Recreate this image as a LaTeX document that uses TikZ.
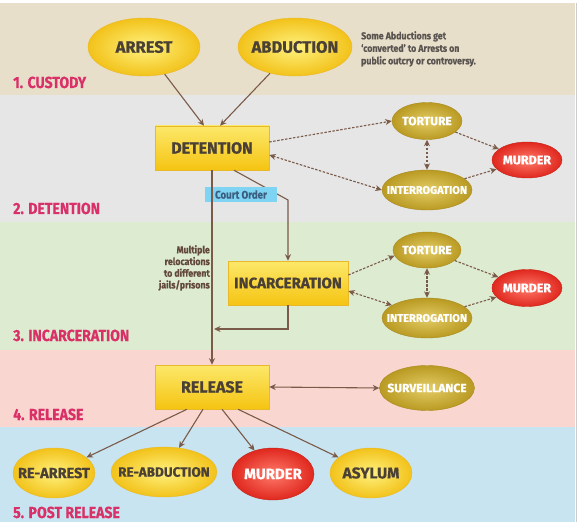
\documentclass[tikz,border=0pt]{standalone}
\usepackage{fontspec}
\setmainfont{Fira Sans}
\newfontfamily\hv{Fira Sans}[FakeBold=0.8]
\newfontfamily\lblf{Fira Sans}[FakeStretch=0.88,FakeBold=0.5]
\usetikzlibrary{shapes.geometric,arrows.meta}
\definecolor{bandA}{HTML}{E8DFCB}
\definecolor{bandB}{HTML}{E6E6E6}
\definecolor{bandC}{HTML}{DDEBD0}
\definecolor{bandD}{HTML}{FAD6D0}
\definecolor{bandE}{HTML}{C8E4F0}
\definecolor{lblc}{HTML}{D93068}
\definecolor{brn}{HTML}{7A5A48}
\definecolor{txt}{HTML}{4A4036}
\definecolor{yTop}{HTML}{FCE86A}
\definecolor{yBot}{HTML}{F5C412}
\definecolor{yEdge}{HTML}{E9B92A}
\definecolor{yIn}{HTML}{FFF27F}
\definecolor{yOut}{HTML}{F2C21A}
\definecolor{oIn}{HTML}{E4CD67}
\definecolor{oOut}{HTML}{B99A22}
\definecolor{oEdge}{HTML}{A88A1E}
\definecolor{rIn}{HTML}{FF7A6A}
\definecolor{rOut}{HTML}{E0281E}
\definecolor{rEdge}{HTML}{C52018}
\definecolor{coFill}{HTML}{7FD3F3}
\definecolor{coText}{HTML}{3B5F80}
\definecolor{noteText}{HTML}{5A5550}
\tikzset{
  ybox/.style={rectangle, minimum width=114, minimum height=44, inner sep=0pt,
    top color=yTop, bottom color=yBot, draw=yEdge, line width=0.5pt,
    text=txt, font=\hv\bfseries\fontsize{16}{16}\selectfont},
  ellbase/.style={ellipse, inner xsep=-20pt, inner ysep=0pt, shading=radial, line width=0.4pt},
  yell/.style={ellbase, inner color=yIn, outer color=yOut, draw=yEdge, text=txt},
  oell/.style={ellbase, inner color=oIn, outer color=oOut, draw=oEdge, text=white},
  rell/.style={ellbase, inner color=rIn, outer color=rOut, draw=rEdge, text=white},
  stagelbl/.style={anchor=base west, inner sep=0pt, text=lblc, font=\lblf\bfseries\fontsize{16}{16}\selectfont},
  arr/.style={draw=brn, line width=1.1pt, -{Stealth[length=6.5pt,width=6pt]}},
  darr/.style={draw=brn, line width=1.1pt, dash pattern=on 2.5pt off 1.5pt, -{Stealth[length=6.5pt,width=6pt]}},
  ddarr/.style={draw=brn, line width=1.1pt, dash pattern=on 2.5pt off 1.5pt, {Stealth[length=6.5pt,width=6pt]}-{Stealth[length=6.5pt,width=6pt]}},
  sdarr/.style={draw=brn, line width=1.1pt, {Stealth[length=6.5pt,width=6pt]}-{Stealth[length=6.5pt,width=6pt]}},
}
\begin{document}
\begin{tikzpicture}[x=1pt,y=-1pt]
\useasboundingbox (0,0) rectangle (582,527);
\fill[white] (0,0) rectangle (582,527);
% bands
\fill[bandA] (0,3) rectangle (575,95);
\fill[bandB] (0,95) rectangle (575,222);
\fill[bandC] (0,222) rectangle (575,350);
\fill[bandD] (0,350) rectangle (575,427);
\fill[bandE] (0,427) rectangle (575,522);
\draw[black!20, line width=0.8pt] (576,3) -- (576,522);

% stage labels
\node[stagelbl] (s1) at (13,88) {1. CUSTODY};
\node[stagelbl] (s2) at (13,214) {2. DETENTION};
\node[stagelbl] (s3) at (13,341) {3. INCARCERATION};
\node[stagelbl] (s4) at (13,420) {4. RELEASE};
\node[stagelbl] (s5) at (13,518) {5. POST RELEASE};

% custody
\node[yell, minimum width=112, minimum height=58, font=\hv\bfseries\fontsize{16.5}{16.5}\selectfont] (arrest) at (144,47) {ARREST};
\node[yell, minimum width=114, minimum height=58, font=\hv\bfseries\fontsize{16.5}{16.5}\selectfont] (abd) at (295,47) {ABDUCTION};
\node[anchor=north west, align=left, inner sep=0pt, text=noteText,
  font=\lblf\bfseries\fontsize{10}{12.5}\selectfont] (note) at (361,31)
  {Some Abductions get\\‘converted’ to Arrests on\\public outcry or controversy.};

% detention
\node[ybox] (det) at (212,148) {DETENTION};
\node[oell, minimum width=70, minimum height=37, font=\hv\bfseries\fontsize{12}{12}\selectfont] (tort1) at (427,121) {TORTURE};
\node[oell, minimum width=90, minimum height=40, font=\hv\bfseries\fontsize{11}{11}\selectfont] (int1) at (427,190) {INTERROGATION};
\node[rell, minimum width=70, minimum height=36, font=\hv\bfseries\fontsize{12.5}{12.5}\selectfont] (mur1) at (527,160) {MURDER};

\draw[arr] (arrest) -- ([xshift=-8pt]det.north);
\draw[arr] (abd) -- ([xshift=8pt]det.north);
\draw[darr] ([yshift=6pt]det.east) -- (tort1.west);
\draw[ddarr] ([yshift=-7pt]det.east) -- (int1.west);
\draw[ddarr] (tort1.south) -- (int1.north);
\draw[darr] (tort1) -- (mur1);
\draw[darr] (int1) -- (mur1);

% incarceration
\node[ybox, minimum width=120, font=\hv\bfseries\fontsize{15}{15}\selectfont] (inc) at (288,283) {INCARCERATION};
\node[oell, minimum width=68, minimum height=36, font=\hv\bfseries\fontsize{12}{12}\selectfont] (tort2) at (427,250) {TORTURE};
\node[oell, minimum width=90, minimum height=40, font=\hv\bfseries\fontsize{11}{11}\selectfont] (int2) at (427,318) {INTERROGATION};
\node[rell, minimum width=70, minimum height=37, font=\hv\bfseries\fontsize{12.5}{12.5}\selectfont] (mur2) at (527,288) {MURDER};

\draw[darr] ([yshift=8pt]inc.east) -- (tort2.190);
\draw[ddarr] ([yshift=-8pt]inc.east) -- (int2.160);
\draw[ddarr] (tort2.south) -- (int2.north);
\draw[darr] (tort2) -- (mur2);
\draw[darr] (int2) -- (mur2);

% release
\node[ybox] (rel) at (212,387) {RELEASE};
\node[oell, minimum width=95, minimum height=45, font=\hv\bfseries\fontsize{12}{12}\selectfont] (surv) at (427,388) {SURVEILLANCE};
\draw[sdarr] (rel.east) -- (surv.west);

% detention -> incarceration via court order
\coordinate (bend) at (288,200);
\draw[arr] ([xshift=22pt]det.south) -- (bend) -- (inc.north);
\node[rectangle, fill=coFill, minimum width=72, minimum height=15, inner sep=0pt,
  text=coText, font=\lblf\bfseries\fontsize{11}{11}\selectfont] (court) at (241,194.5) {Court Order};

% relocation line
\draw[arr] (det.south) -- (rel.north);
\coordinate (loopend) at (214,329);
\draw[arr] (inc.south) |- (loopend);
\node[anchor=north east, align=right, inner sep=0pt, text=brn!80!black,
  font=\lblf\bfseries\fontsize{10}{11.7}\selectfont] (reloc) at (210,245)
  {Multiple\\relocations\\to different\\jails/prisons};

% post release
\node[yell, minimum width=82, minimum height=50, font=\hv\bfseries\fontsize{14.5}{14.5}\selectfont] (rearr) at (54,473) {RE-ARREST};
\node[yell, minimum width=106, minimum height=50, font=\hv\bfseries\fontsize{13.5}{13.5}\selectfont] (reabd) at (164,472) {RE-ABDUCTION};
\node[rell, minimum width=82, minimum height=52, font=\hv\bfseries\fontsize{15}{15}\selectfont] (mur3) at (273,474) {MURDER};
\node[yell, minimum width=82, minimum height=50, font=\hv\bfseries\fontsize{15.5}{15.5}\selectfont] (asy) at (371,473) {ASYLUM};

\draw[arr] ([xshift=-25pt]rel.south) -- (rearr);
\draw[arr] ([xshift=-9pt]rel.south) -- (reabd);
\draw[arr] ([xshift=10pt]rel.south) -- (mur3);
\draw[arr] ([xshift=26pt]rel.south) -- (asy);
\end{tikzpicture}
\end{document}
